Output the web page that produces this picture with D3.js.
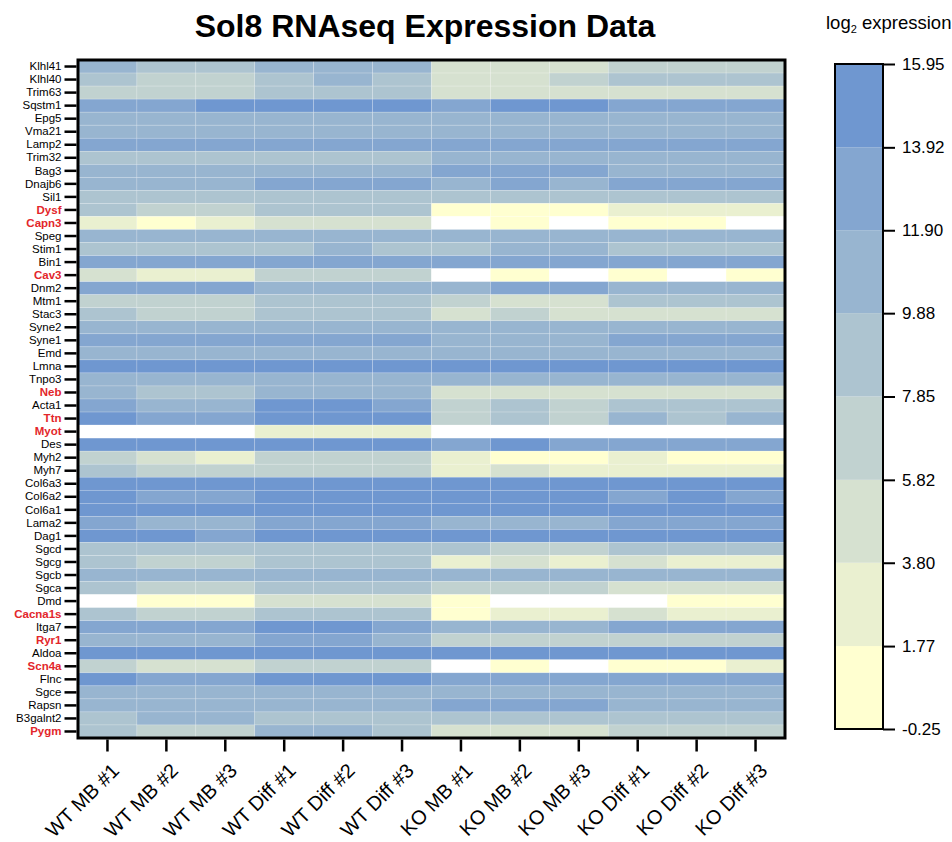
<!DOCTYPE html>
<html>
<head>
<meta charset="utf-8">
<script src="https://cdn.jsdelivr.net/npm/d3@7"></script>
<style>
  body { margin: 0; background: #fff; }
  text { font-family: Arial, "Liberation Sans", sans-serif; }
</style>
</head>
<body>
<div id="wrapper"></div>
<script>
// samples (columns)
const samples = ["WT MB #1", "WT MB #2", "WT MB #3", "WT Diff #1", "WT Diff #2", "WT Diff #3",
  "KO MB #1", "KO MB #2", "KO MB #3", "KO Diff #1", "KO Diff #2", "KO Diff #3"];

// genes (rows, top to bottom)
const genes = ["Klhl41", "Klhl40", "Trim63", "Sqstm1", "Epg5", "Vma21", "Lamp2", "Trim32", "Bag3",
  "Dnajb6", "Sil1", "Dysf", "Capn3", "Speg", "Stim1", "Bin1", "Cav3", "Dnm2", "Mtm1", "Stac3",
  "Syne2", "Syne1", "Emd", "Lmna", "Tnpo3", "Neb", "Acta1", "Ttn", "Myot", "Des", "Myh2", "Myh7",
  "Col6a3", "Col6a2", "Col6a1", "Lama2", "Dag1", "Sgcd", "Sgcg", "Sgcb", "Sgca", "Dmd", "Cacna1s",
  "Itga7", "Ryr1", "Aldoa", "Scn4a", "Flnc", "Sgce", "Rapsn", "B3galnt2", "Pygm"];

// genes highlighted in red
const highlighted = ["Dysf", "Capn3", "Cav3", "Neb", "Ttn", "Myot", "Cacna1s", "Ryr1", "Scn4a", "Pygm"];

// log2 expression, one row per gene, null = not detected (white)
const expression = [
  [10.9, 9.0, 8.9, 11.0, 10.8, 10.9, 4.9, 4.7, 4.8, 6.8, 6.9, 6.7],
  [8.8, 6.9, 6.8, 8.9, 10.5, 8.8, 4.8, 4.9, 6.6, 8.7, 8.8, 8.9],
  [6.7, 6.8, 6.9, 8.6, 8.7, 8.8, 4.6, 4.7, 4.8, 4.9, 4.8, 4.7],
  [13.1, 13.0, 14.3, 14.2, 14.1, 14.3, 13.2, 14.1, 14.2, 13.3, 13.2, 13.1],
  [11.2, 11.1, 11.0, 11.3, 11.2, 11.1, 11.0, 11.1, 11.2, 11.0, 11.1, 11.2],
  [11.0, 11.1, 11.2, 11.0, 11.1, 11.0, 11.2, 11.1, 11.0, 11.2, 11.1, 11.0],
  [12.6, 12.7, 12.6, 12.5, 12.6, 12.7, 12.5, 12.6, 12.7, 12.6, 12.5, 12.6],
  [9.5, 9.4, 9.6, 9.5, 9.3, 9.4, 10.2, 10.3, 10.2, 10.1, 10.2, 10.3],
  [11.1, 11.0, 11.2, 11.1, 11.0, 11.1, 12.2, 12.3, 12.1, 11.2, 11.1, 11.0],
  [11.3, 11.2, 11.1, 12.2, 12.3, 12.2, 11.4, 12.1, 11.3, 12.2, 12.3, 12.1],
  [9.2, 9.1, 9.3, 9.2, 9.1, 9.0, 9.1, 9.2, 9.3, 9.2, 9.1, 9.0],
  [8.9, 6.9, 7.0, 8.8, 8.9, 9.0, 1.2, 1.0, 1.1, 2.6, 2.7, 2.5],
  [2.9, 1.3, 2.8, 4.6, 4.7, 4.5, null, 0.9, null, 1.0, 1.1, null],
  [11.0, 11.1, 10.9, 11.0, 11.1, 10.8, 11.0, 10.9, 11.1, 11.0, 10.9, 11.0],
  [8.8, 8.9, 9.0, 8.9, 10.1, 9.0, 8.9, 10.2, 10.1, 8.9, 8.8, 9.0],
  [12.4, 12.5, 12.6, 12.4, 12.5, 12.6, 12.5, 12.4, 12.5, 12.6, 12.5, 12.4],
  [4.2, 2.5, 2.6, 6.4, 6.5, 6.3, null, 1.2, null, 1.0, null, 1.1],
  [12.4, 12.3, 12.5, 11.2, 11.1, 11.0, 11.3, 12.2, 12.3, 11.1, 11.2, 11.0],
  [7.0, 6.9, 7.1, 8.5, 8.6, 8.4, 6.8, 5.5, 5.4, 8.6, 8.5, 8.4],
  [8.7, 6.8, 6.9, 8.6, 8.5, 8.6, 5.2, 6.5, 5.3, 5.2, 5.1, 5.3],
  [11.0, 11.1, 11.0, 11.2, 11.1, 11.0, 11.1, 11.2, 11.1, 11.0, 11.1, 11.2],
  [12.3, 12.4, 12.3, 12.5, 12.4, 12.3, 11.4, 11.5, 11.3, 12.4, 12.3, 12.4],
  [11.1, 11.0, 11.2, 11.1, 11.0, 11.1, 11.2, 11.1, 11.0, 11.2, 11.1, 11.0],
  [14.5, 14.6, 14.5, 14.4, 14.5, 14.6, 14.5, 14.4, 14.5, 14.6, 14.5, 14.4],
  [11.0, 11.1, 10.9, 11.0, 11.2, 11.0, 11.1, 11.0, 10.9, 11.0, 11.1, 11.0],
  [10.8, 9.2, 9.3, 10.9, 10.8, 10.7, 4.6, 4.7, 4.8, 4.6, 4.7, 4.8],
  [12.5, 11.3, 11.2, 14.2, 14.1, 12.8, 6.6, 8.3, 6.7, 8.4, 8.3, 8.5],
  [14.3, 12.6, 12.5, 14.4, 14.3, 14.2, 6.8, 8.5, 6.9, 10.2, 8.6, 10.1],
  [null, null, null, 2.4, 2.5, 2.3, null, null, null, null, null, null],
  [14.6, 14.5, 14.6, 14.5, 14.4, 14.6, 13.4, 14.2, 13.3, 13.2, 13.4, 13.3],
  [6.5, 4.4, 2.9, 6.4, 6.3, 6.5, 2.2, 1.1, 1.0, 2.3, 1.2, 1.3],
  [8.2, 6.6, 6.5, 6.4, 6.6, 6.5, 2.8, 4.3, 2.7, 2.9, 2.8, 2.7],
  [14.8, 14.7, 14.8, 14.9, 14.8, 14.7, 14.8, 14.9, 14.8, 14.7, 14.8, 14.9],
  [14.5, 13.1, 13.0, 14.6, 14.5, 14.4, 14.2, 14.3, 14.2, 13.4, 14.3, 13.5],
  [14.7, 14.6, 14.5, 14.6, 14.7, 14.6, 14.5, 14.6, 14.7, 14.6, 14.5, 14.6],
  [12.2, 11.4, 11.3, 12.3, 12.2, 12.1, 11.5, 11.4, 11.3, 12.2, 12.3, 12.2],
  [14.4, 14.3, 13.4, 14.5, 14.4, 14.3, 14.4, 14.5, 14.3, 14.4, 14.5, 14.4],
  [9.0, 9.1, 8.9, 9.0, 9.1, 8.9, 8.6, 7.2, 7.3, 8.6, 8.7, 8.5],
  [8.7, 6.6, 6.5, 8.6, 8.7, 8.5, 3.2, 4.5, 3.1, 4.4, 3.3, 3.2],
  [10.9, 11.0, 10.9, 11.0, 11.1, 10.9, 11.0, 10.9, 11.0, 11.1, 10.9, 11.0],
  [8.4, 6.8, 6.9, 8.5, 8.4, 8.6, 6.3, 6.2, 6.4, 5.3, 5.2, 5.4],
  [null, 1.0, 0.9, 4.1, 4.2, 4.0, 0.8, null, null, null, 1.1, 1.2],
  [8.3, 6.7, 6.6, 8.4, 8.3, 8.2, 1.4, 2.9, 2.8, 4.3, 2.9, 2.8],
  [12.6, 12.5, 12.4, 14.1, 14.2, 12.5, 11.2, 11.3, 11.1, 12.4, 12.3, 12.5],
  [11.0, 10.9, 11.0, 12.2, 12.1, 11.5, 6.4, 6.3, 6.5, 6.4, 6.3, 6.5],
  [14.7, 14.6, 14.7, 14.6, 14.7, 14.6, 14.7, 14.6, 14.5, 14.6, 14.7, 14.6],
  [6.2, 5.0, 5.1, 6.3, 6.2, 6.4, null, 1.3, null, 1.2, 1.3, 2.4],
  [14.2, 12.7, 12.8, 14.3, 14.4, 14.3, 12.8, 12.7, 12.6, 12.7, 12.8, 12.6],
  [11.1, 11.0, 10.9, 11.0, 11.1, 11.2, 11.0, 10.9, 11.1, 11.0, 10.9, 11.1],
  [11.3, 11.4, 11.2, 11.1, 11.0, 11.2, 12.1, 12.2, 12.0, 11.3, 11.2, 11.1],
  [9.6, 10.1, 10.2, 9.5, 9.4, 9.6, 9.3, 9.4, 9.2, 9.3, 9.4, 9.2],
  [9.2, 7.4, 7.3, 10.3, 10.4, 9.3, 4.2, 4.4, 4.3, 7.2, 7.1, 7.3]
];

// colorbar tick labels
const colorTicks = [-0.25, 1.77, 3.80, 5.82, 7.85, 9.88, 11.90, 13.92, 15.95];

const width = 952;
const height = 842;
const plot = { left: 78, right: 785, top: 60, bottom: 738 };
const bar = { left: 835, width: 48, top: 64, bottom: 729 };

const svg = d3.select("#wrapper").append("svg")
  .attr("width", width)
  .attr("height", height);

// title
svg.append("text")
  .attr("x", 425).attr("y", 37)
  .attr("text-anchor", "middle")
  .style("font-size", "32px").style("font-weight", "700")
  .text("Sol8 RNAseq Expression Data");

const legendTitle = svg.append("text")
  .attr("x", 826).attr("y", 29)
  .style("font-size", "18.5px");
legendTitle.append("tspan").text("log");
legendTitle.append("tspan").attr("dy", 4).style("font-size", "11px").text("2");
legendTitle.append("tspan").attr("dy", -4).text(" expression");

// scales
const xScale = d3.scaleBand().domain(samples).range([plot.left, plot.right]);
const yScale = d3.scaleBand().domain(genes).range([plot.top, plot.bottom]);

const bandColors = d3.range(8).map((i) => d3.interpolateRgb("#ffffd0", "#6f97d0")(i / 7));
const colorScale = d3.scaleQuantize()
  .domain([colorTicks[0], colorTicks[colorTicks.length - 1]])
  .range(bandColors);

// cells
const cells = [];
genes.forEach((g, i) => {
  samples.forEach((s, j) => {
    cells.push({ gene: g, sample: s, value: expression[i][j] });
  });
});

svg.append("g")
  .selectAll("rect")
  .data(cells)
  .join("rect")
  .attr("x", (d) => xScale(d.sample))
  .attr("y", (d) => yScale(d.gene))
  .attr("width", xScale.bandwidth())
  .attr("height", yScale.bandwidth())
  .attr("fill", (d) => (d.value == null ? "#ffffff" : colorScale(d.value)))
  .attr("stroke", "rgba(255,255,255,0.3)")
  .attr("stroke-width", 0.6);

// frame
svg.append("rect")
  .attr("x", plot.left).attr("y", plot.top)
  .attr("width", plot.right - plot.left)
  .attr("height", plot.bottom - plot.top)
  .attr("fill", "none")
  .attr("stroke", "#000")
  .attr("stroke-width", 3);

// y axis
const yAxis = svg.append("g")
  .attr("transform", `translate(${plot.left - 1.5},0)`)
  .call(d3.axisLeft(yScale).tickSize(12).tickPadding(3));
yAxis.select(".domain").remove();
yAxis.selectAll(".tick line").attr("stroke-width", 2.5);
yAxis.selectAll(".tick text")
  .style("font-size", "11.5px")
  .style("font-family", "Arial, 'Liberation Sans', sans-serif")
  .attr("fill", (d) => (highlighted.includes(d) ? "#e3262b" : "#000"))
  .style("font-weight", (d) => (highlighted.includes(d) ? "700" : "400"));

// x axis
const xAxis = svg.append("g")
  .attr("transform", `translate(0,${plot.bottom + 1.5})`)
  .call(d3.axisBottom(xScale).tickSize(12).tickFormat(""));
xAxis.select(".domain").remove();
xAxis.selectAll(".tick line").attr("stroke-width", 2.5);

svg.append("g")
  .selectAll("text")
  .data(samples)
  .join("text")
  .attr("transform", (d) => `translate(${xScale(d) + xScale.bandwidth() / 2 + 13},${plot.bottom + 34}) rotate(-45)`)
  .attr("text-anchor", "end")
  .style("font-size", "20px")
  .text((d) => d);

// colorbar
const barScale = d3.scaleLinear()
  .domain([colorTicks[0], colorTicks[colorTicks.length - 1]])
  .range([bar.bottom, bar.top]);

svg.append("g")
  .selectAll("rect")
  .data(bandColors)
  .join("rect")
  .attr("x", bar.left)
  .attr("y", (d, i) => barScale(colorTicks[i + 1]))
  .attr("width", bar.width)
  .attr("height", (d, i) => barScale(colorTicks[i]) - barScale(colorTicks[i + 1]))
  .attr("fill", (d) => d);

svg.append("rect")
  .attr("x", bar.left).attr("y", bar.top)
  .attr("width", bar.width)
  .attr("height", bar.bottom - bar.top)
  .attr("fill", "none")
  .attr("stroke", "#000")
  .attr("stroke-width", 2);

const barAxis = svg.append("g")
  .attr("transform", `translate(${bar.left + bar.width},0)`)
  .call(d3.axisRight(barScale).tickValues(colorTicks).tickFormat((d) => d.toFixed(2)).tickSize(12).tickPadding(7));
barAxis.select(".domain").remove();
barAxis.selectAll(".tick line").attr("stroke-width", 2);
barAxis.selectAll(".tick text")
  .style("font-size", "17px")
  .style("font-family", "Arial, 'Liberation Sans', sans-serif");
</script>
</body>
</html>
